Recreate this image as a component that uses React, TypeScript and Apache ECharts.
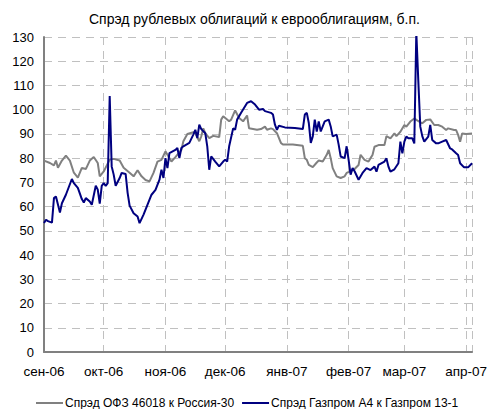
import React, { useEffect, useRef } from 'react';
import * as echarts from 'echarts';

const TITLE = 'Спрэд рублевых облигаций к еврооблигациям, б.п.';
const SERIES_NAMES = ['Спрэд ОФЗ 46018 к Россия-30', 'Спрэд Газпром А4 к Газпром 13-1'];
const MONTHS = ['янв', 'фев', 'мар', 'апр', 'май', 'июн', 'июл', 'авг', 'сен', 'окт', 'ноя', 'дек'];

// Спрэд ОФЗ 46018 к Россия-30
const ofzSpread: [string, number][] = [
  ['2006-09-01', 79], ['2006-09-04', 78], ['2006-09-06', 77], ['2006-09-07', 79], ['2006-09-08', 76],
  ['2006-09-10', 79], ['2006-09-12', 81], ['2006-09-14', 79], ['2006-09-16', 74], ['2006-09-18', 72],
  ['2006-09-20', 76], ['2006-09-22', 75.5], ['2006-09-24', 79], ['2006-09-26', 80.5], ['2006-09-28', 78],
  ['2006-09-29', 72.5], ['2006-10-01', 74.5], ['2006-10-04', 79.4], ['2006-10-06', 79.7], ['2006-10-09', 79],
  ['2006-10-11', 76], ['2006-10-14', 74], ['2006-10-16', 72.5], ['2006-10-18', 75], ['2006-10-20', 72.5],
  ['2006-10-22', 71], ['2006-10-24', 70.4], ['2006-10-26', 73.9], ['2006-10-28', 78.6], ['2006-10-30', 79.3],
  ['2006-11-01', 82.8], ['2006-11-02', 81.4], ['2006-11-04', 78.6], ['2006-11-06', 80.4], ['2006-11-09', 83.4],
  ['2006-11-10', 87], ['2006-11-12', 90], ['2006-11-15', 90.7], ['2006-11-16', 90.3], ['2006-11-18', 87],
  ['2006-11-19', 89], ['2006-11-20', 92.3], ['2006-11-21', 90.3], ['2006-11-23', 88.3], ['2006-11-25', 89.2],
  ['2006-11-28', 88.7], ['2006-11-29', 95.9], ['2006-11-30', 97.3], ['2006-12-03', 95.2], ['2006-12-04', 95.9],
  ['2006-12-06', 99.7], ['2006-12-08', 96.6], ['2006-12-10', 95.2], ['2006-12-12', 97.6], ['2006-12-13', 92.3],
  ['2006-12-17', 91.7], ['2006-12-19', 92], ['2006-12-21', 93], ['2006-12-22', 91.7], ['2006-12-24', 92.3],
  ['2006-12-25', 92], ['2006-12-27', 90.3], ['2006-12-29', 86.3], ['2006-12-30', 85.6], ['2007-01-04', 85.6],
  ['2007-01-09', 85.1], ['2007-01-10', 80], ['2007-01-11', 79.3], ['2007-01-12', 77.2], ['2007-01-14', 76.3],
  ['2007-01-16', 78.2], ['2007-01-17', 79], ['2007-01-19', 78.6], ['2007-01-21', 81.4], ['2007-01-22', 83.4],
  ['2007-01-23', 80], ['2007-01-24', 75.9], ['2007-01-26', 72.5], ['2007-01-28', 71.8], ['2007-01-30', 72.5],
  ['2007-01-31', 73.9], ['2007-02-02', 74.6], ['2007-02-04', 75.5], ['2007-02-06', 77.2], ['2007-02-07', 81.4],
  ['2007-02-09', 79.3], ['2007-02-11', 78.6], ['2007-02-12', 80], ['2007-02-13', 81.3], ['2007-02-14', 84.7],
  ['2007-02-16', 85.4], ['2007-02-19', 85.4], ['2007-02-20', 89.1], ['2007-02-22', 88.2], ['2007-02-24', 90.2],
  ['2007-02-25', 89.1], ['2007-02-27', 90.9], ['2007-03-01', 93.7], ['2007-03-02', 93], ['2007-03-04', 95.1],
  ['2007-03-06', 96.4], ['2007-03-07', 95.8], ['2007-03-10', 94.4], ['2007-03-12', 95.8], ['2007-03-14', 96],
  ['2007-03-16', 93.7], ['2007-03-18', 93.7], ['2007-03-20', 93], ['2007-03-22', 91.6], ['2007-03-23', 92.3],
  ['2007-03-26', 91.6], ['2007-03-27', 91.6], ['2007-03-28', 89.6], ['2007-03-29', 86.8], ['2007-03-30', 90.2],
  ['2007-04-01', 90], ['2007-04-04', 90.2],
];

// Спрэд Газпром А4 к Газпром 13-1
const gazpromSpread: [string, number][] = [
  ['2006-09-01', 53.2], ['2006-09-02', 54.6], ['2006-09-03', 54], ['2006-09-05', 53.4], ['2006-09-06', 63.5],
  ['2006-09-07', 64.2], ['2006-09-09', 57.6], ['2006-09-10', 61.4], ['2006-09-12', 64.9], ['2006-09-15', 71.4],
  ['2006-09-16', 69.7], ['2006-09-18', 67.7], ['2006-09-20', 63.1], ['2006-09-21', 61.7], ['2006-09-22', 63.5],
  ['2006-09-24', 62.1], ['2006-09-25', 60.8], ['2006-09-27', 68.6], ['2006-09-28', 67], ['2006-09-29', 61.2],
  ['2006-09-30', 68.6], ['2006-10-01', 69.7], ['2006-10-02', 68.6], ['2006-10-03', 69.7], ['2006-10-04', 105.6],
  ['2006-10-05', 76.6], ['2006-10-06', 73.2], ['2006-10-07', 68.6], ['2006-10-09', 71.8], ['2006-10-10', 73.9],
  ['2006-10-12', 73.5], ['2006-10-13', 65.7], ['2006-10-14', 60.4], ['2006-10-16', 57.3], ['2006-10-18', 55.9],
  ['2006-10-19', 53.2], ['2006-10-21', 56.7], ['2006-10-23', 60.8], ['2006-10-25', 64.9], ['2006-10-27', 66.9],
  ['2006-10-29', 71.1], ['2006-10-30', 75.2], ['2006-10-31', 71.8], ['2006-11-01', 80], ['2006-11-02', 75.9],
  ['2006-11-03', 82.1], ['2006-11-06', 83.4], ['2006-11-07', 84.2], ['2006-11-08', 80], ['2006-11-09', 84.2],
  ['2006-11-10', 84.9], ['2006-11-13', 86.3], ['2006-11-15', 89.7], ['2006-11-16', 91.7], ['2006-11-17', 88.3],
  ['2006-11-18', 93.8], ['2006-11-19', 92], ['2006-11-21', 90.3], ['2006-11-22', 84.9], ['2006-11-23', 75.2],
  ['2006-11-24', 80.7], ['2006-11-26', 78.6], ['2006-11-28', 76.6], ['2006-11-30', 78.6], ['2006-12-01', 79.3],
  ['2006-12-02', 78.6], ['2006-12-03', 84.9], ['2006-12-05', 92.3], ['2006-12-06', 91.7], ['2006-12-07', 95.9],
  ['2006-12-09', 98.7], ['2006-12-12', 102.8], ['2006-12-14', 103.5], ['2006-12-16', 102.1], ['2006-12-18', 100],
  ['2006-12-20', 100.3], ['2006-12-21', 99.4], ['2006-12-24', 98.7], ['2006-12-25', 98], ['2006-12-26', 93.8],
  ['2006-12-27', 91.7], ['2006-12-28', 93.4], ['2006-12-31', 92.7], ['2007-01-05', 92.4], ['2007-01-09', 92],
  ['2007-01-10', 98], ['2007-01-11', 98.7], ['2007-01-12', 94.5], ['2007-01-13', 86.3], ['2007-01-14', 89],
  ['2007-01-15', 95.9], ['2007-01-16', 91], ['2007-01-17', 95.2], ['2007-01-18', 91], ['2007-01-19', 93.1],
  ['2007-01-20', 95.2], ['2007-01-22', 95.9], ['2007-01-23', 93.1], ['2007-01-24', 89], ['2007-01-26', 89.7],
  ['2007-01-27', 85.6], ['2007-01-28', 80.7], ['2007-01-30', 80], ['2007-01-31', 84.9], ['2007-02-01', 79.3],
  ['2007-02-02', 73.2], ['2007-02-03', 75.9], ['2007-02-04', 74.6], ['2007-02-06', 71.1], ['2007-02-08', 73.9],
  ['2007-02-10', 75.9], ['2007-02-11', 75.5], ['2007-02-12', 75.1], ['2007-02-14', 76.5], ['2007-02-15', 74.4],
  ['2007-02-16', 77.2], ['2007-02-19', 78.6], ['2007-02-20', 79.9], ['2007-02-21', 76.5], ['2007-02-22', 74.4],
  ['2007-02-24', 75.4], ['2007-02-26', 77.9], ['2007-02-27', 86.8], ['2007-02-28', 82], ['2007-03-01', 86.8],
  ['2007-03-02', 88.9], ['2007-03-03', 88.2], ['2007-03-05', 88.2], ['2007-03-06', 86.1], ['2007-03-07', 132],
  ['2007-03-08', 112], ['2007-03-09', 93], ['2007-03-10', 89.1], ['2007-03-11', 86.8], ['2007-03-13', 88.9],
  ['2007-03-14', 93.7], ['2007-03-15', 87.5], ['2007-03-17', 86.1], ['2007-03-18', 86.1], ['2007-03-20', 86.8],
  ['2007-03-22', 87.5], ['2007-03-24', 84], ['2007-03-25', 83.6], ['2007-03-27', 82], ['2007-03-28', 81.3],
  ['2007-03-29', 77.9], ['2007-03-31', 76.2], ['2007-04-02', 76.2], ['2007-04-04', 77.9],
];

const FONT = 'Liberation Sans, Arial, sans-serif';

const App: React.FC = () => {
  const chartRef = useRef<HTMLDivElement>(null);

  useEffect(() => {
    if (!chartRef.current) return;
    const chart = echarts.init(chartRef.current, undefined, { renderer: 'svg' });

    const option = {
      animation: false,
      backgroundColor: '#ffffff',
      textStyle: { fontFamily: FONT },
      title: {
        text: TITLE,
        left: 84,
        top: 7,
        textStyle: { fontFamily: FONT, fontSize: 14, fontWeight: 'normal', color: '#000000' },
      },
      legend: {
        left: 31,
        top: 392,
        icon: 'rect',
        itemWidth: 27,
        itemHeight: 2,
        itemGap: 8,
        textStyle: { fontFamily: FONT, fontSize: 12, color: '#000000', padding: [0, 0, 0, -3] },
        data: SERIES_NAMES,
      },
      grid: { left: 44, right: 15, top: 37, bottom: 57 },
      xAxis: {
        type: 'time',
        min: '2006-09-01',
        max: '2007-04-04',
        minInterval: 28 * 86400000,
        maxInterval: 31 * 86400000,
        axisLine: { lineStyle: { color: '#808080', width: 2 } },
        axisTick: { show: false },
        axisLabel: {
          fontFamily: FONT,
          fontSize: 13.5,
          color: '#000000',
          margin: 12,
          showMinLabel: true,
          formatter: (value: number) => {
            const d = new Date(value);
            return `${MONTHS[d.getMonth()]}-${String(d.getFullYear()).slice(2)}`;
          },
        },
        splitLine: { show: true, lineStyle: { color: '#c0c0c0', type: [8, 6], width: 1 } },
      },
      yAxis: {
        type: 'value',
        min: 0,
        max: 130,
        interval: 10,
        axisLine: { show: true, lineStyle: { color: '#808080', width: 2 } },
        axisTick: { show: false },
        axisLabel: { fontFamily: FONT, fontSize: 13, color: '#000000', margin: 10 },
        splitLine: { show: true, lineStyle: { color: '#c0c0c0', type: [8, 6], width: 1 } },
      },
      series: [
        {
          name: SERIES_NAMES[0],
          type: 'line',
          data: ofzSpread,
          symbol: 'none',
          lineStyle: { color: '#808080', width: 2 },
          itemStyle: { color: '#808080' },
        },
        {
          name: SERIES_NAMES[1],
          type: 'line',
          data: gazpromSpread,
          symbol: 'none',
          lineStyle: { color: '#000080', width: 2 },
          itemStyle: { color: '#000080' },
        },
      ],
    };

    chart.setOption(option);
    return () => chart.dispose();
  }, []);

  return (
    <div
      ref={chartRef}
      style={{ position: 'fixed', left: 0, top: 0, width: '490px', height: '409px' }}
    />
  );
};

export default App;
